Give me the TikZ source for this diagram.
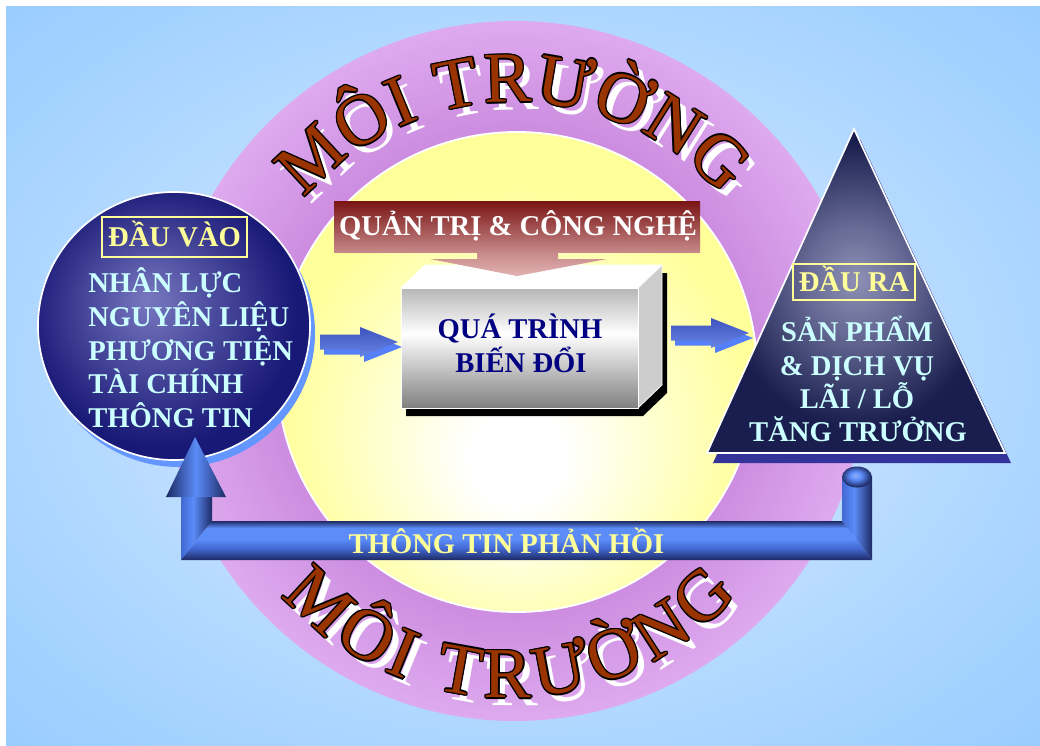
\documentclass[tikz,border=0pt]{standalone}
\usepackage{fontspec}
\setmainfont{Liberation Serif}
\newfontfamily\titlefont{Liberation Serif}
\usetikzlibrary{decorations.text}

% palette
\definecolor{bgblue}{RGB}{153,204,255}
\definecolor{bglight}{RGB}{205,230,255}
\definecolor{bgmid}{RGB}{188,221,255}
\definecolor{bgsoft}{RGB}{166,211,255}
\definecolor{ringin}{RGB}{204,140,224}
\definecolor{ringout}{RGB}{222,170,238}
\definecolor{sunedge}{RGB}{255,255,153}
\definecolor{titlebrown}{RGB}{153,51,0}
\definecolor{navyhi}{RGB}{120,120,192}
\definecolor{navymid}{RGB}{80,80,162}
\definecolor{navylo}{RGB}{24,24,118}
\definecolor{trihi}{RGB}{142,144,180}
\definecolor{trimid}{RGB}{104,108,150}
\definecolor{trilo}{RGB}{26,30,78}
\definecolor{trishadow}{RGB}{51,51,153}
\definecolor{circshadow}{RGB}{100,150,255}
\definecolor{labelyellow}{RGB}{255,255,153}
\definecolor{bodycyan}{RGB}{204,255,255}
\definecolor{boxnavy}{RGB}{0,0,128}
\definecolor{bannertop}{RGB}{122,20,20}
\definecolor{bannerbot}{RGB}{198,136,136}
\definecolor{bannertip}{RGB}{226,178,178}
\definecolor{pipedark}{RGB}{30,42,100}
\definecolor{pipemid}{RGB}{66,104,210}
\definecolor{pipebright}{RGB}{91,140,248}
\definecolor{arrowshadow}{RGB}{85,128,250}
\definecolor{arrowtop}{RGB}{62,82,192}
\definecolor{arrowbot}{RGB}{104,134,228}
\definecolor{boxgreytop}{RGB}{182,182,182}
\definecolor{boxgreybot}{RGB}{128,128,128}
\definecolor{boxside}{RGB}{205,205,205}

% shadings (a path's bounding box covers 25bp..75bp of an axis shading,
% and a radius of 25bp of a radial one)
\pgfdeclareradialshading{bgglow}{\pgfpointorigin}{color(0bp)=(bglight); color(18bp)=(bgmid); color(28bp)=(bgsoft); color(36bp)=(bgblue); color(50bp)=(bgblue)}
\pgfdeclareradialshading{ringglow}{\pgfpointorigin}{color(0bp)=(ringin); color(17bp)=(ringin); color(25bp)=(ringout); color(50bp)=(ringout)}
\pgfdeclareradialshading{sunglow}{\pgfpoint{0bp}{-10bp}}{color(0bp)=(white); color(5bp)=(white); color(14bp)=(white!55!sunedge); color(25bp)=(sunedge); color(50bp)=(sunedge)}
\pgfdeclareradialshading{ballglow}{\pgfpoint{-5bp}{5bp}}{color(0bp)=(navyhi); color(10bp)=(navymid); color(25bp)=(navylo); color(50bp)=(navylo)}
\pgfdeclareradialshading{triglow}{\pgfpoint{0bp}{2bp}}{color(0bp)=(trihi); color(8bp)=(trimid); color(22bp)=(trilo); color(50bp)=(trilo)}
\pgfdeclareverticalshading{hpipe}{100bp}{color(0bp)=(pipedark); color(25bp)=(pipedark); color(40bp)=(pipemid); color(52bp)=(pipebright); color(66bp)=(pipebright); color(75bp)=(pipedark); color(100bp)=(pipedark)}
\pgfdeclarehorizontalshading{vpipe}{100bp}{color(0bp)=(pipemid); color(25bp)=(pipemid); color(45bp)=(pipebright); color(75bp)=(pipedark); color(100bp)=(pipedark)}
\pgfdeclarehorizontalshading{headshade}{100bp}{color(0bp)=(pipedark); color(25bp)=(pipedark); color(50bp)=(pipebright); color(75bp)=(pipedark); color(100bp)=(pipedark)}
\pgfdeclareradialshading{knob}{\pgfpoint{-3bp}{4bp}}{color(0bp)=(pipebright!70!white); color(10bp)=(pipebright); color(25bp)=(pipedark); color(50bp)=(pipedark)}
\pgfdeclareverticalshading{boxfront}{100bp}{color(0bp)=(boxgreybot); color(25bp)=(boxgreybot); color(56bp)=(white); color(75bp)=(boxgreytop); color(100bp)=(boxgreytop)}
\pgfdeclareverticalshading{bannershade}{100bp}{color(0bp)=(bannerbot); color(25bp)=(bannerbot); color(75bp)=(bannertop); color(100bp)=(bannertop)}
\pgfdeclareverticalshading{bannerarrow}{100bp}{color(0bp)=(bannertip); color(25bp)=(bannertip); color(75bp)=(bannerbot); color(100bp)=(bannerbot)}
\pgfdeclareverticalshading{blueshaft}{100bp}{color(0bp)=(arrowbot); color(25bp)=(arrowbot); color(75bp)=(arrowtop); color(100bp)=(arrowtop)}

\newcommand\titlesize{\titlefont\fontsize{51}{52}\selectfont}
\newcommand\bodysize{\bfseries\fontsize{20.35}{24}\selectfont}

\tikzset{
  arctitle/.style={decorate, decoration={text along path, text align=fit to path,
      text={|\titlesize\color{#1}|MÔI TRƯỜNG}}},
  bodytext/.style={font=\bodysize, text=bodycyan, inner sep=0pt},
  boxtext/.style={font=\bodysize, text=boxnavy, inner sep=0pt, anchor=base},
  labelbox/.style={draw=labelyellow, line width=1.2pt, text=labelyellow, font=\bodysize,
      inner sep=0pt, text height=0.475cm, text depth=0pt},
  pics/blockarrow/.style={code={
      \fill[arrowshadow] (4,-2.5) -- (44,-2.5) -- (44,-10) -- (82,5) -- (44,20) -- (44,12.5) -- (4,12.5) -- cycle;
      \shade[shading=blueshaft] (0,-7.5) -- (40,-7.5) -- (40,-15) -- (78,0) -- (40,15) -- (40,7.5) -- (0,7.5) -- cycle;
  }},
}

\begin{document}
\begin{tikzpicture}[x=0.025cm, y=-0.025cm]
\useasboundingbox (0,0) rectangle (1040,745);

% background
\fill[white] (0,0) rectangle (1040,745);
\fill[bgblue] (6,6) rectangle (1040,745);
\shade[shading=bgglow] (6,6) rectangle (1040,745);

% environment ring and inner sun
\shade[shading=ringglow] (515,371) circle[radius=350];
\shadedraw[shading=sunglow, draw=white, line width=1.3pt] (517,372) circle[radius=240];

% curved titles: shadow, outline, letters
\foreach \dx/\dy/\col in {7/8/white, 1.4/0/black, -1.4/0/black, 0/1.4/black, 0/-1.4/black,
    1/1/black, 1/-1/black, -1/1/black, -1/-1/black, 0/0/titlebrown} {
  \path[arctitle=\col, shift={(\dx,\dy)}] (515,379) ++(220.5:277) arc[start angle=220.5, end angle=318.5, radius=277];
  \path[arctitle=\col, shift={(\dx,\dy)}] (509.5,395) ++(138.7:303) arc[start angle=138.7, end angle=41.3, radius=303];
}

% input disc
\fill[circshadow] (179,333) ellipse[x radius=136, y radius=134];
\shadedraw[shading=ballglow, draw=white, line width=1.2pt] (174,326) ellipse[x radius=136, y radius=134];

% output pyramid
\fill[trishadow] (860,139) -- (713,463) -- (1011,463) -- cycle;
\shadedraw[shading=triglow, draw=white, line width=1.2pt] (854,129) -- (707,453) -- (1005,453) -- cycle;

% process box
\fill[black] (406,296) -- (430,273) -- (667,273) -- (667,393) -- (643,416) -- (406,416) -- cycle;
\filldraw[fill=white, draw=white, line width=0.5pt] (401,288) -- (425,265) -- (662,265) -- (638,288) -- cycle;
\filldraw[fill=boxside, draw=white, line width=0.5pt] (638,288) -- (662,265) -- (662,385) -- (638,408) -- cycle;
\shadedraw[shading=boxfront, draw=white, line width=0.5pt] (401,288) rectangle (638,408);

% management banner and its arrow
\shade[shading=bannershade] (334,201) rectangle (700,252);
\shade[shading=bannerarrow] (477,252) -- (558,252) -- (558,259) -- (607,259) -- (517,276) -- (430,259) -- (477,259) -- cycle;

% flow arrows
\pic (flowin) at (320,342) {blockarrow};
\pic (flowout) at (671,333) {blockarrow};

% feedback pipe
\shade[shading=vpipe] (181,497) -- (212,497) -- (212,521) -- (181,560) -- cycle;
\shade[shading=hpipe] (181,560) -- (212,521) -- (842,521) -- (872,560) -- cycle;
\shade[shading=vpipe] (842,477) -- (872,477) -- (872,560) -- (842,521) -- cycle;
\shade[shading=knob] (857,477) ellipse[x radius=15, y radius=10.5];
\shade[shading=headshade] (166,497) -- (226,497) -- (195,437) -- cycle;

% texts
\node[labelbox, minimum width=3.625cm, minimum height=1cm] (inlabel) at (174.5,237) {ĐẦU VÀO};
\node[bodytext, anchor=base west] (in1) at (88,292.7) {NHÂN LỰC};
\node[bodytext, anchor=base west] (in2) at (88,326.7) {NGUYÊN LIỆU};
\node[bodytext, anchor=base west] (in3) at (88,360) {PHƯƠNG TIỆN};
\node[bodytext, anchor=base west] (in4) at (88,393.5) {TÀI CHÍNH};
\node[bodytext, anchor=base west] (in5) at (88,427) {THÔNG TIN};

\node[labelbox, minimum width=3.05cm, minimum height=0.9cm] (outlabel) at (854,282) {ĐẦU RA};
\node[bodytext, anchor=base] (out1) at (857,341.7) {SẢN PHẨM};
\node[bodytext, anchor=base] (out2) at (857,375) {\& DỊCH VỤ};
\node[bodytext, anchor=base] (out3) at (857,408) {LÃI / LỖ};
\node[bodytext, anchor=base] (out4) at (858,441.7) {TĂNG TRƯỞNG};

\node[boxtext] (proc1) at (520,338) {QUÁ TRÌNH};
\node[boxtext] (proc2) at (521,372) {BIẾN ĐỔI};

\node[font=\bodysize, text=white, inner sep=0pt, anchor=base] (mgmt) at (518,235) {QUẢN TRỊ \& CÔNG NGHỆ};
\node[font=\bodysize, text=labelyellow, inner sep=0pt, anchor=base] (feedback) at (506.5,553) {THÔNG TIN PHẢN HỒI};
\end{tikzpicture}
\end{document}
